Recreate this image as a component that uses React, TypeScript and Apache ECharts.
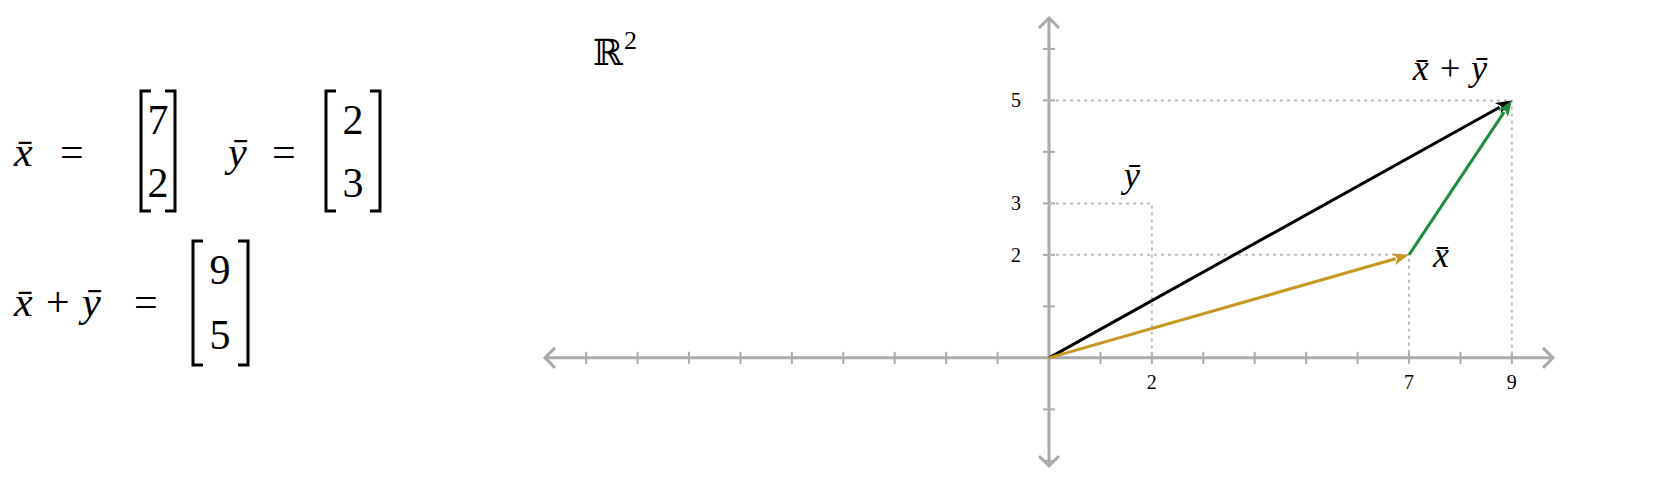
import React, { useEffect, useRef } from "react";
import * as echarts from "echarts";

const vecX = [7, 2];
const vecY = [2, 3];
const vecSum = [9, 5];
const xTicks = [-9, -8, -7, -6, -5, -4, -3, -2, -1, 1, 2, 3, 4, 5, 6, 7, 8, 9];
const yTicks = [-2, -1, 1, 2, 3, 4, 5, 6];
const xTickLabels = [2, 7, 9];
const yTickLabels = [2, 3, 5];
const X_MIN = -9.8, X_MAX = 9.8, Y_MIN = -2.1, Y_MAX = 6.6;

const SERIF = "'Liberation Serif', 'DejaVu Serif', serif";
const GRAY = "#aaaaaa";
const DOT = "#bdbdbd";

function arrowVec(p0: number[], p1: number[], color: string) {
  const dx = p1[0] - p0[0], dy = p1[1] - p0[1];
  const L = Math.hypot(dx, dy);
  const ux = dx / L, uy = dy / L;
  const hl = 16, hw = 6;
  const bx = p1[0] - ux * hl, by = p1[1] - uy * hl;
  return [
    { type: "line", shape: { x1: p0[0], y1: p0[1], x2: bx + ux * 2, y2: by + uy * 2 }, style: { stroke: color, lineWidth: 3 } },
    {
      type: "polygon",
      shape: { points: [[p1[0], p1[1]], [bx - uy * hw, by + ux * hw], [bx + ux * 4, by + uy * 4], [bx + uy * hw, by - ux * hw]] },
      style: { fill: color },
    },
  ];
}

function renderItem(_params: any, api: any) {
  const c = (x: number, y: number) => api.coord([x, y]);
  const els: any[] = [];
  const o = c(0, 0);
  const xl = c(X_MIN, 0), xr = c(X_MAX, 0), yt = c(0, Y_MAX), yb = c(0, Y_MIN);
  const ax = { stroke: GRAY, lineWidth: 3 };
  els.push({ type: "line", shape: { x1: xl[0], y1: xl[1], x2: xr[0], y2: xr[1] }, style: ax });
  els.push({ type: "line", shape: { x1: yt[0], y1: yt[1], x2: yb[0], y2: yb[1] }, style: ax });
  const a = 10;
  els.push({ type: "polyline", shape: { points: [[xl[0] + a, xl[1] - a], xl, [xl[0] + a, xl[1] + a]] }, style: { ...ax, fill: "none" } });
  els.push({ type: "polyline", shape: { points: [[xr[0] - a, xr[1] - a], xr, [xr[0] - a, xr[1] + a]] }, style: { ...ax, fill: "none" } });
  els.push({ type: "polyline", shape: { points: [[yt[0] - a, yt[1] + a], yt, [yt[0] + a, yt[1] + a]] }, style: { ...ax, fill: "none" } });
  els.push({ type: "polyline", shape: { points: [[yb[0] - a, yb[1] - a], yb, [yb[0] + a, yb[1] - a]] }, style: { ...ax, fill: "none" } });
  xTicks.forEach((t) => {
    const p = c(t, 0);
    els.push({ type: "line", shape: { x1: p[0], y1: p[1] - 6, x2: p[0], y2: p[1] + 6 }, style: { stroke: GRAY, lineWidth: 2 } });
  });
  yTicks.forEach((t) => {
    const p = c(0, t);
    els.push({ type: "line", shape: { x1: p[0] - 6, y1: p[1], x2: p[0] + 6, y2: p[1] }, style: { stroke: GRAY, lineWidth: 2 } });
  });
  const guide = (pts: number[][]) =>
    els.push({ type: "polyline", shape: { points: pts.map((q) => c(q[0], q[1])) }, style: { stroke: DOT, lineWidth: 2, lineDash: [3, 4], fill: "none" } });
  guide([[0, vecSum[1]], vecSum, [vecSum[0], 0]]);
  guide([[0, vecY[1]], vecY, [vecY[0], 0]]);
  guide([[0, vecX[1]], vecX, [vecX[0], 0]]);
  xTickLabels.forEach((t) => {
    const p = c(t, 0);
    els.push({ type: "text", style: { x: p[0], y: p[1] + 14, text: String(t), font: `20px ${SERIF}`, fill: "#000", align: "center", verticalAlign: "top" } });
  });
  yTickLabels.forEach((t) => {
    const p = c(0, t);
    els.push({ type: "text", style: { x: p[0] - 28, y: p[1], text: String(t), font: `20px ${SERIF}`, fill: "#000", align: "right", verticalAlign: "middle" } });
  });
  els.push(...arrowVec(o, c(vecSum[0], vecSum[1]), "#000"));
  els.push(...arrowVec(o, c(vecX[0], vecX[1]), "#c8961e"));
  els.push(...arrowVec(c(vecX[0], vecX[1]), c(vecSum[0], vecSum[1]), "#1e8c3c"));
  const lab = (x: number, y: number, text: string, dx: number, dy: number) => {
    const p = c(x, y);
    els.push({ type: "text", style: { x: p[0] + dx, y: p[1] + dy, text, font: `italic 36px ${SERIF}`, fill: "#000", align: "center", verticalAlign: "middle" } });
  };
  lab(vecY[0], vecY[1], "ȳ", -20, -28);
  lab(vecX[0], vecX[1], "x̄", 32, 0);
  lab(vecSum[0], vecSum[1], "x̄ + ȳ", -62, -32);
  return { type: "group", children: els };
}

function bracket(x: number, y: number, h: number, left: boolean) {
  const w = 10;
  const pts = left ? [[x + w, y], [x, y], [x, y + h], [x + w, y + h]] : [[x - w, y], [x, y], [x, y + h], [x - w, y + h]];
  return { type: "polyline", shape: { points: pts }, style: { stroke: "#000", lineWidth: 3, fill: "none" } };
}
const eqText = (x: number, y: number, text: string, italic = true, align = "left") => ({
  type: "text",
  style: { x, y, text, font: `${italic ? "italic " : ""}42px ${SERIF}`, fill: "#000", verticalAlign: "middle", align },
});

export default function App() {
  const ref = useRef<HTMLDivElement>(null);
  useEffect(() => {
    const chart = echarts.init(ref.current!, null, { renderer: "svg" });
    chart.setOption({
      animation: false,
      grid: { left: 545, right: 103, top: 18, bottom: 31 },
      xAxis: { type: "value", min: X_MIN, max: X_MAX, show: false },
      yAxis: { type: "value", min: Y_MIN, max: Y_MAX, show: false },
      series: [{ type: "custom", renderItem, data: [[0, 0]], silent: true }],
      graphic: [
        eqText(14, 152, "x̄"),
        eqText(60, 152, "=", false),
        bracket(141, 91, 120, true),
        bracket(175, 91, 120, false),
        eqText(158, 120, String(vecX[0]), false, "center"),
        eqText(158, 183, String(vecX[1]), false, "center"),
        eqText(228, 152, "ȳ"),
        eqText(272, 152, "=", false),
        bracket(326, 91, 120, true),
        bracket(380, 91, 120, false),
        eqText(353, 120, String(vecY[0]), false, "center"),
        eqText(353, 183, String(vecY[1]), false, "center"),
        eqText(14, 302, "x̄ + ȳ"),
        eqText(134, 302, "=", false),
        bracket(193, 241, 124, true),
        bracket(248, 241, 124, false),
        eqText(220, 270, String(vecSum[0]), false, "center"),
        eqText(220, 335, String(vecSum[1]), false, "center"),
        { type: "text", style: { x: 593, y: 52, text: "ℝ", font: `36px 'DejaVu Serif', serif`, fill: "#000", verticalAlign: "middle" } },
        { type: "text", style: { x: 624, y: 40, text: "2", font: `26px ${SERIF}`, fill: "#000", verticalAlign: "middle" } },
      ],
    });
    return () => chart.dispose();
  }, []);
  return <div ref={ref} style={{ position: "absolute", left: 0, top: 0, width: 1656, height: 497 }} />;
}
